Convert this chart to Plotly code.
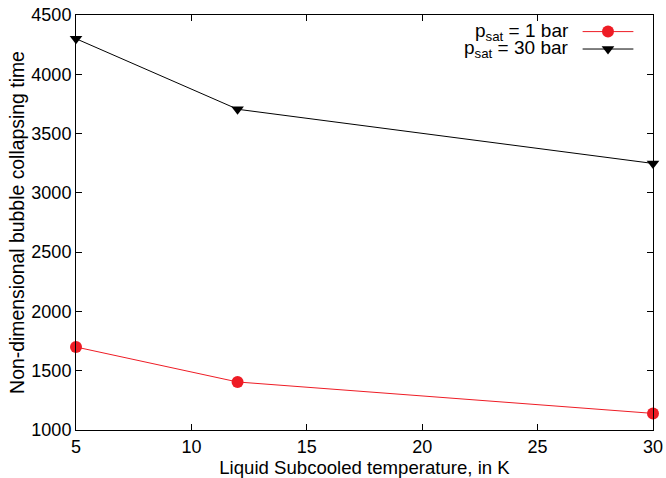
import plotly.graph_objects as go

subcool_K = [5, 12, 30]
tau_1bar = [1700, 1405, 1140]
tau_30bar = [4300, 3705, 3248]
legend_labels = ["p<sub>sat</sub> = 1 bar", "p<sub>sat</sub> = 30 bar"]
x_ticks = [5, 10, 15, 20, 25, 30]
y_ticks = [1000, 1500, 2000, 2500, 3000, 3500, 4000, 4500]

RED = "#ee1c25"
BLACK = "#000000"
FONT = "Liberation Sans, Arial, sans-serif"
FS = 18

fig = go.Figure()
fig.add_trace(go.Scatter(x=subcool_K, y=tau_1bar, mode="lines+markers",
                         line=dict(color=RED, width=1),
                         marker=dict(symbol="circle", size=12, color=RED),
                         showlegend=False, cliponaxis=False))
fig.add_trace(go.Scatter(x=subcool_K, y=tau_30bar, mode="lines+markers",
                         line=dict(color=BLACK, width=1),
                         marker=dict(symbol="triangle-down", size=11, color=BLACK),
                         showlegend=False, cliponaxis=False))

# gnuplot-style key (text right-aligned, sample on the right) on a hidden overlay axis
key_y = [0.96, 0.918]
key_colors = [RED, BLACK]
key_symbols = ["circle", "triangle-down"]
key_sizes = [12, 11]
for i in range(2):
    fig.add_trace(go.Scatter(x=[0.878, 0.966], y=[key_y[i]] * 2, mode="lines",
                             line=dict(color=key_colors[i], width=1),
                             xaxis="x2", yaxis="y2", showlegend=False, hoverinfo="skip"))
    fig.add_trace(go.Scatter(x=[0.922], y=[key_y[i]], mode="markers",
                             marker=dict(symbol=key_symbols[i], size=key_sizes[i], color=key_colors[i]),
                             xaxis="x2", yaxis="y2", showlegend=False, hoverinfo="skip"))
    fig.add_annotation(x=0.858, y=key_y[i], xref="x2", yref="y2", text=legend_labels[i],
                       showarrow=False, xanchor="right", yanchor="middle",
                       font=dict(family=FONT, size=19, color="black"))

axis_common = dict(showline=True, linecolor="black", linewidth=1, mirror="ticks",
                   ticks="inside", ticklen=6, tickcolor="black", showgrid=False,
                   zeroline=False, automargin=False,
                   tickfont=dict(family=FONT, size=FS, color="black"))

fig.update_layout(
    width=666, height=478,
    margin=dict(l=76, r=13, t=15, b=48),
    paper_bgcolor="white", plot_bgcolor="white",
    font=dict(family=FONT, size=FS, color="black"),
    xaxis=dict(range=[5, 30], tickvals=x_ticks,
               title=dict(text="Liquid Subcooled temperature, in K", standoff=0,
                          font=dict(family=FONT, size=18.6)),
               **axis_common),
    yaxis=dict(range=[1000, 4500], tickvals=y_ticks,
               title=dict(text="Non-dimensional bubble collapsing time", standoff=1,
                          font=dict(family=FONT, size=19.4)),
               **axis_common),
    xaxis2=dict(range=[0, 1], overlaying="x", visible=False, fixedrange=True, automargin=False),
    yaxis2=dict(range=[0, 1], overlaying="y", visible=False, fixedrange=True, automargin=False),
)

fig.write_html("out.html")
